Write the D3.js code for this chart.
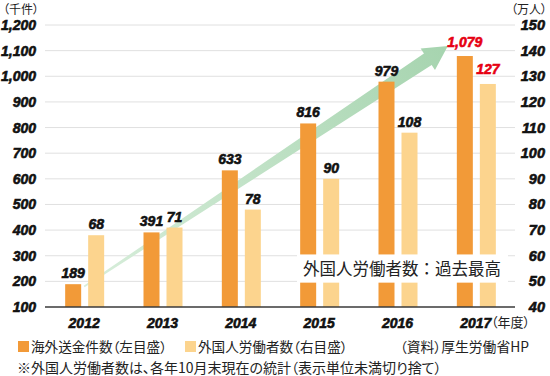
<!DOCTYPE html>
<html>
<head>
<meta charset="utf-8">
<script src="https://cdn.jsdelivr.net/npm/d3@7"></script>
<style>
html,body{margin:0;padding:0;background:#fff;}
svg{display:block;}
.num{font-family:"Liberation Sans",Arial,sans-serif;font-weight:bold;font-style:italic;stroke-width:0.6px;paint-order:stroke;}
.jp{font-family:"Noto Sans CJK JP","Noto Sans",sans-serif;font-feature-settings:"palt" 1;}
.jpw{font-family:"Noto Sans CJK JP","Noto Sans",sans-serif;}
</style>
</head>
<body>
<svg id="chart" width="550" height="376"></svg>
<script>
// ---- data ----
const years = ["2012", "2013", "2014", "2015", "2016", "2017"];
const remittances = [189, 391, 633, 816, 979, 1079];   // 千件 (left axis)
const workers = [68, 71, 78, 90, 108, 127];            // 万人 (right axis)
const leftTicks = [100, 200, 300, 400, 500, 600, 700, 800, 900, 1000, 1100, 1200];
const rightTicks = [40, 50, 60, 70, 80, 90, 100, 110, 120, 130, 140, 150];
const seriesNames = ["海外送金件数（左目盛）", "外国人労働者数（右目盛）"];
const leftUnit = "（千件）";
const rightUnit = "（万人）";
const yearUnit = "（年度）";
const sourceText = "（資料）厚生労働省HP";
const noteText = "※外国人労働者数は、各年10月末現在の統計（表示単位未満切り捨て）";
const calloutText = "外国人労働者数：過去最高";
// trend arrow (annotation) endpoints in data terms: [year, left-axis value]
const arrowFrom = ["2012", 180];
const arrowTo = ["2017", 1118];

// ---- layout ----
const svg = d3.select("#chart");
const plotL = 45, plotR = 515, plotT = 25, plotB = 307;
const x = d3.scaleBand().domain(years).range([plotL, plotR]).padding(0);
const yL = d3.scaleLinear().domain([100, 1200]).range([plotB, plotT]);
const yR = d3.scaleLinear().domain([40, 150]).range([plotB, plotT]);
const cx = d => x(d) + x.bandwidth() / 2;
const barW = 16;
const orange = "#F29A38", light = "#FCD48E", red = "#E60012", ink = "#111";
const fmt = d3.format(",");

// gridlines
svg.append("g").selectAll("line").data(leftTicks.slice(1)).join("line")
  .attr("x1", plotL).attr("x2", plotR)
  .attr("y1", d => yL(d)).attr("y2", d => yL(d))
  .attr("stroke", "#e0e0e0").attr("stroke-width", 1);

// arrow (behind bars)
const defs = svg.append("defs");
const S = [cx(arrowFrom[0]), yL(arrowFrom[1])];
const T = [cx(arrowTo[0]) - 28, yL(arrowTo[1])];
const grad = defs.append("linearGradient").attr("id", "ag")
  .attr("gradientUnits", "userSpaceOnUse")
  .attr("x1", S[0]).attr("y1", S[1]).attr("x2", T[0]).attr("y2", T[1]);
grad.append("stop").attr("offset", 0).attr("stop-color", "#d8eedb");
grad.append("stop").attr("offset", 1).attr("stop-color", "#a6d4af");
{
  const dx = T[0] - S[0], dy = T[1] - S[1];
  const len = Math.hypot(dx, dy);
  const d = [dx / len, dy / len], n = [-d[1], d[0]];
  const headL = 24, headH = 13, shaftStart = 0.8, shaftEnd = 7;
  const B = [T[0] - headL * d[0], T[1] - headL * d[1]];
  const p = (P, k) => [P[0] + k * n[0], P[1] + k * n[1]];
  const pts = [p(S, -shaftStart), p(B, -shaftEnd), p(B, -headH), T, p(B, headH), p(B, shaftEnd), p(S, shaftStart)];
  svg.append("polygon").attr("points", pts.map(q => q.join(",")).join(" "))
    .attr("fill", "url(#ag)");
}

// bars
svg.append("g").selectAll("rect").data(years).join("rect")
  .attr("x", d => cx(d) - 19).attr("width", barW)
  .attr("y", (d, i) => yL(remittances[i])).attr("height", (d, i) => plotB - yL(remittances[i]))
  .attr("fill", orange);
svg.append("g").selectAll("rect").data(years).join("rect")
  .attr("x", d => cx(d) + 4).attr("width", barW)
  .attr("y", (d, i) => yR(workers[i])).attr("height", (d, i) => plotB - yR(workers[i]))
  .attr("fill", light);

// baseline
svg.append("line").attr("x1", plotL).attr("x2", plotR).attr("y1", plotB).attr("y2", plotB)
  .attr("stroke", "#3a3a3a").attr("stroke-width", 1.5);

// callout box
const boxTop = yR(60.5), boxBot = yR(49.5);
svg.append("rect").attr("x", 297).attr("y", boxTop).attr("width", 211).attr("height", boxBot - boxTop)
  .attr("fill", "#fff");
svg.append("text").attr("class", "jpw").attr("x", 303).attr("y", (boxTop + boxBot) / 2 + 6)
  .attr("font-size", 16.5).attr("fill", "#222").text(calloutText);

// value labels
const last = years.length - 1;
const col = i => i === last ? red : ink;
svg.append("g").selectAll("text").data(years).join("text")
  .attr("class", "num").attr("font-size", 14).attr("text-anchor", "middle")
  .attr("x", d => cx(d) - 11).attr("y", (d, i) => yL(remittances[i]) - (i === last ? 9 : 6))
  .attr("fill", (d, i) => col(i)).attr("stroke", (d, i) => col(i))
  .text((d, i) => fmt(remittances[i]));
svg.append("g").selectAll("text").data(years).join("text")
  .attr("class", "num").attr("font-size", 14).attr("text-anchor", "middle")
  .attr("x", d => cx(d) + 12).attr("y", (d, i) => yR(workers[i]) - (i === last ? 10 : 6))
  .attr("fill", (d, i) => col(i)).attr("stroke", (d, i) => col(i))
  .text((d, i) => fmt(workers[i]));

// left axis labels
svg.append("g").selectAll("text").data(leftTicks).join("text")
  .attr("class", "num").attr("font-size", 14).attr("text-anchor", "end")
  .attr("x", 36).attr("y", d => yL(d) + 5).attr("fill", ink).attr("stroke", ink).text(d => fmt(d));
// right axis labels
svg.append("g").selectAll("text").data(rightTicks).join("text")
  .attr("class", "num").attr("font-size", 14.5).attr("text-anchor", "end")
  .attr("x", 545).attr("y", d => yR(d) + 5).attr("fill", ink).attr("stroke", ink).text(d => d);
// x labels
svg.append("g").selectAll("text").data(years).join("text")
  .attr("class", "num").attr("font-size", 14).attr("text-anchor", "middle")
  .attr("x", d => cx(d)).attr("y", 328).attr("fill", ink).attr("stroke", ink).text(d => d);
svg.append("text").attr("class", "jp").attr("x", 491).attr("y", 327).attr("font-size", 13)
  .attr("fill", "#222").text(yearUnit);

// units
svg.append("text").attr("class", "jp").attr("x", 3).attr("y", 14).attr("font-size", 12)
  .attr("fill", "#222").text(leftUnit);
svg.append("text").attr("class", "jp").attr("x", 547).attr("y", 14).attr("font-size", 12)
  .attr("text-anchor", "end").attr("fill", "#222").text(rightUnit);

// legend
const legend = [{x: 18, name: seriesNames[0], c: orange}, {x: 185, name: seriesNames[1], c: light}];
legend.forEach(l => {
  svg.append("rect").attr("x", l.x).attr("y", 341).attr("width", 11).attr("height", 11).attr("fill", l.c);
  svg.append("text").attr("class", "jp").attr("x", l.x + 13).attr("y", 352).attr("font-size", 13.6)
    .attr("fill", "#222").text(l.name);
});
svg.append("text").attr("class", "jp").attr("x", 529).attr("y", 352).attr("font-size", 13.8)
  .attr("text-anchor", "end").attr("fill", "#222").text(sourceText);
svg.append("text").attr("class", "jp").attr("x", 17).attr("y", 373).attr("font-size", 14)
  .attr("fill", "#222").text(noteText);
</script>
</body>
</html>
